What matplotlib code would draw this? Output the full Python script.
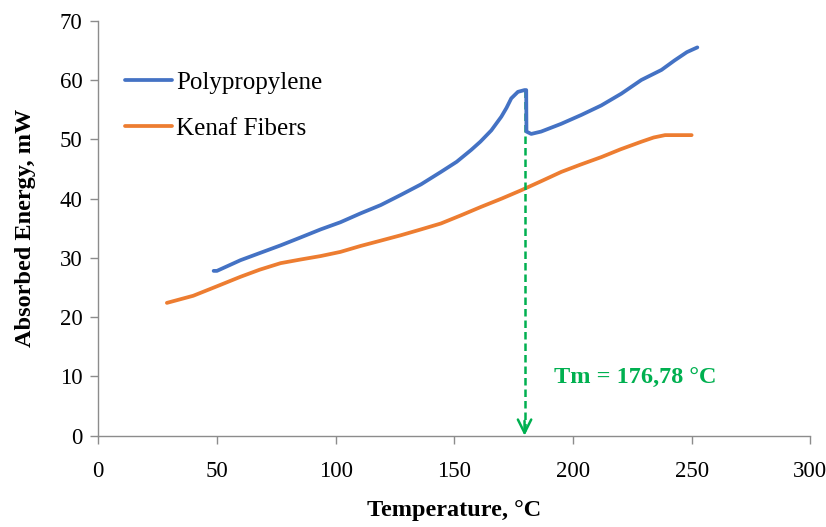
import matplotlib.pyplot as plt

plt.rcParams['font.family'] = ['Liberation Serif', 'DejaVu Serif']

# Polypropylene DSC curve (temperature °C, absorbed energy mW)
pp_temp = [48.6, 50, 59.9, 68, 76.8, 85, 93.7, 102, 110.5, 119, 127.4, 136, 144.4,
           151, 157.1, 161, 165.6, 169.8, 172, 174, 176.8, 179.6, 180.3, 180.4,
           182.4, 186.6, 195, 203.5, 211.9, 220.4, 228.8, 237.3, 242.8, 248, 252.4]
pp_energy = [27.8, 27.8, 29.6, 30.8, 32.1, 33.4, 34.8, 36.0, 37.5, 38.9, 40.6, 42.4, 44.5,
             46.2, 48.2, 49.6, 51.5, 53.8, 55.3, 56.9, 58.0, 58.3, 58.3, 51.3,
             50.9, 51.3, 52.6, 54.1, 55.7, 57.7, 60.0, 61.7, 63.3, 64.7, 65.5]

# Kenaf fibers curve
kf_temp = [28.9, 40, 50, 59.9, 68, 76.8, 85, 93.7, 102, 110.5, 119, 127.4, 136, 144.4,
           153, 161.3, 170, 178.2, 187, 195.1, 203, 212, 220, 228.9, 234, 238.8, 250]
kf_energy = [22.4, 23.6, 25.2, 26.8, 28.0, 29.1, 29.7, 30.3, 31.0, 32.0, 32.9, 33.8, 34.8, 35.8,
             37.2, 38.6, 40.0, 41.4, 43.0, 44.5, 45.7, 47.0, 48.3, 49.6, 50.3, 50.7, 50.7]

tm_label = "Tm = 176,78 °C"
green = '#00B050'

fig = plt.figure(figsize=(8.26, 5.27), dpi=100)
ax = fig.add_axes([0.119, 0.1733, 0.862, 0.7874])

ax.plot(pp_temp, pp_energy, color='#4472C4', lw=2.7, label='Polypropylene',
        solid_capstyle='round', zorder=3)
ax.plot(kf_temp, kf_energy, color='#ED7D31', lw=2.7, label='Kenaf Fibers',
        solid_capstyle='round', zorder=2)

# melting peak = point just before the sharp drop
drops = [pp_energy[i + 1] - pp_energy[i] for i in range(len(pp_energy) - 1)]
i_peak = drops.index(min(drops))
tm_x = pp_temp[i_peak] - 0.7
ax.plot([tm_x, tm_x], [pp_energy[i_peak], 0.3], color=green, lw=1.8,
        ls=(0, (3, 1.6)), zorder=2.5)
ax.annotate('', xy=(tm_x, 0), xytext=(tm_x, 2.5),
            arrowprops=dict(arrowstyle='->', color=green, lw=1.8,
                            mutation_scale=24, shrinkA=0, shrinkB=0))
ax.text(192, 9.7, tm_label, color=green, fontsize=17.5, fontweight='bold',
        ha='left', va='center')

ax.set_xlim(0, 300)
ax.set_ylim(0, 70)
ax.set_xticks(range(0, 301, 50))
ax.set_yticks(range(0, 71, 10))
for s in ['top', 'right']:
    ax.spines[s].set_visible(False)
for s in ['left', 'bottom']:
    ax.spines[s].set_color('#8c8c8c')
    ax.spines[s].set_linewidth(1.0)
ax.tick_params(axis='both', direction='out', length=5.5, width=1.0, color='#8c8c8c',
               labelsize=16.5, pad=6)
ax.tick_params(axis='x', pad=13)

ax.set_xlabel('Temperature, °C', fontsize=17.5, fontweight='bold', labelpad=13)
ax.set_ylabel('Absorbed Energy, mW', fontsize=17.5, fontweight='bold', labelpad=17)

ax.legend(loc='upper left', bbox_to_anchor=(0.0375, 0.878), frameon=False, fontsize=18,
          handlelength=1.9, handletextpad=0.15, labelspacing=0.95, borderpad=0, borderaxespad=0)

fig.savefig('out.png', dpi=100)
